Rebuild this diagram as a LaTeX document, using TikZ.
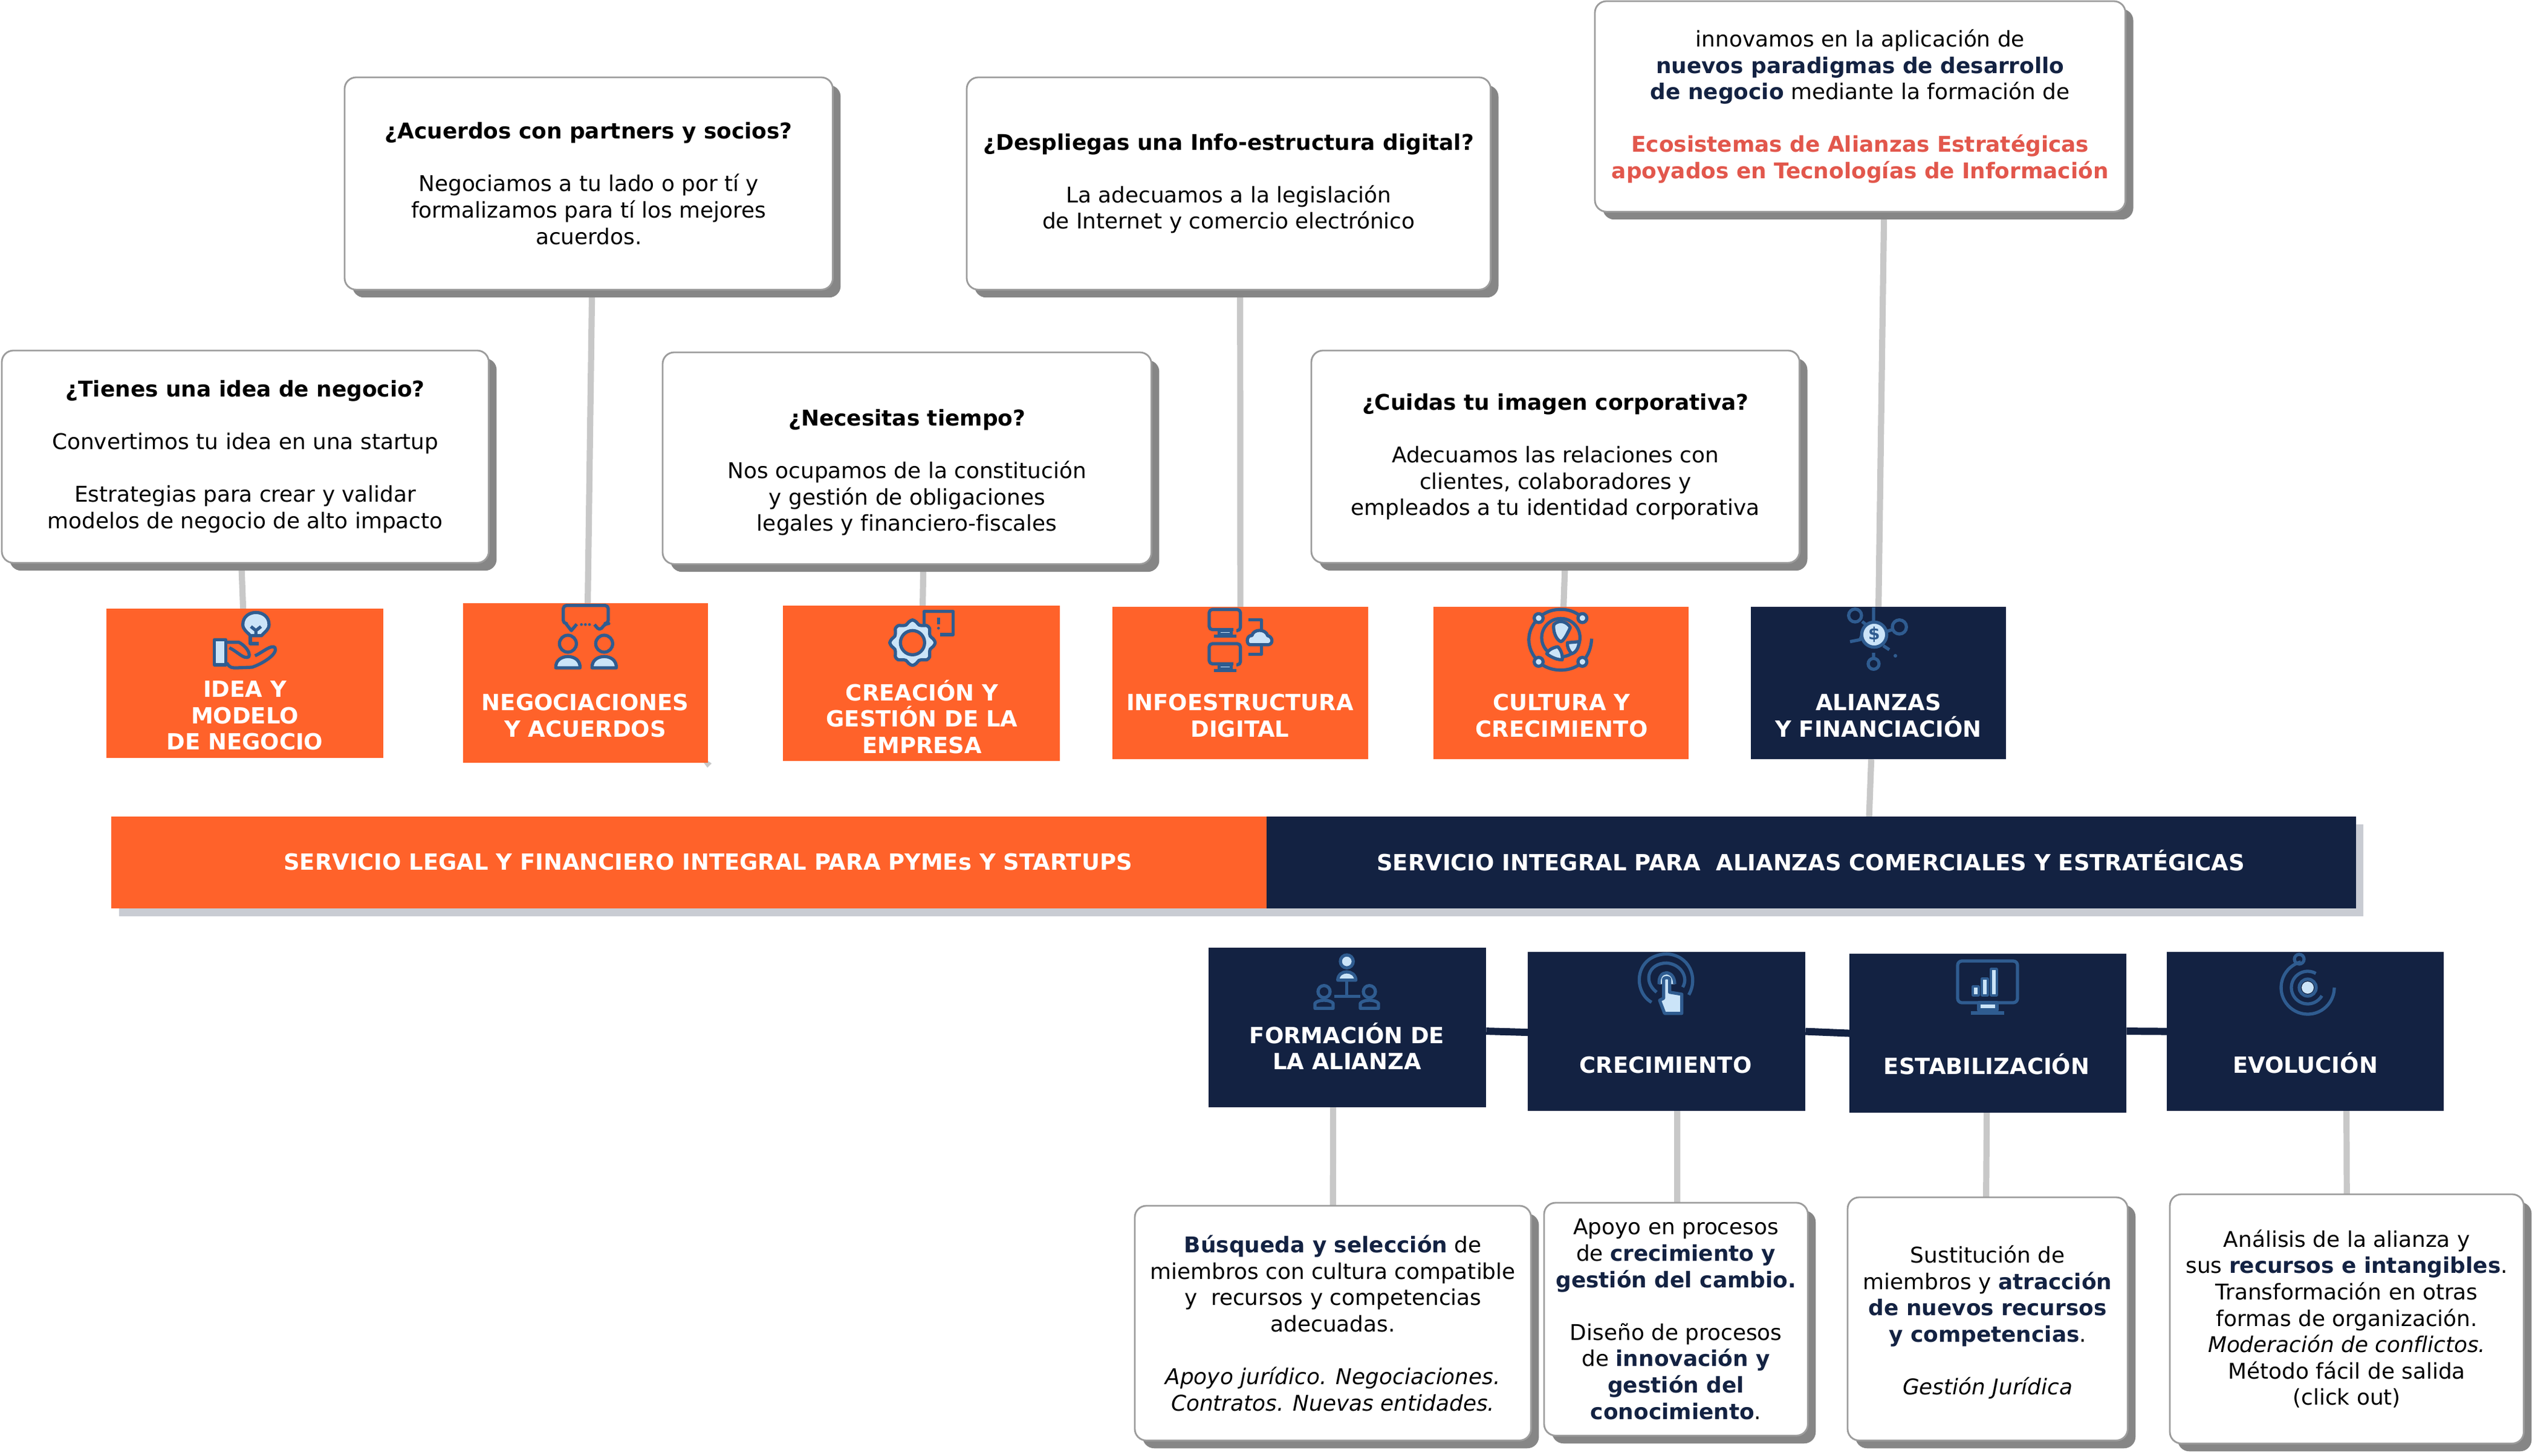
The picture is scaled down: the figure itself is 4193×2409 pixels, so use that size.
\documentclass[tikz,border=0pt]{standalone}
\usepackage{fontspec}
\setmainfont{DejaVu Sans}[Ligatures=NoCommon]
\usetikzlibrary{backgrounds,shadows}
\definecolor{naranja}{HTML}{FF622A}
\definecolor{marino}{HTML}{132242}
\definecolor{rojo}{HTML}{E2574C}
\definecolor{borde}{HTML}{9C9C9C}
\definecolor{sombra}{HTML}{868686}
\definecolor{enlace}{HTML}{C8C8C8}
\definecolor{sombrabarra}{HTML}{C9CCD3}
\definecolor{icono}{HTML}{2F5C90}
\definecolor{claro}{HTML}{CBE4F8}
\tikzset{
	callout/.style={anchor=north west,draw=borde,line width=.8pt,fill=white,rounded corners=.19cm,align=center,inner sep=0pt,outer sep=0pt,
		font=\fontsize{10.2}{12.4}\selectfont,drop shadow={shadow xshift=.13cm,shadow yshift=-.13cm,fill=sombra,opacity=1}},
	stepbox/.style={anchor=north west,inner sep=0pt,outer sep=0pt},
	steptext/.style={text=white,align=center,font=\fontsize{10.5}{12.4}\selectfont\bfseries},
	link/.style={draw=enlace,line width=2.9pt},
	darklink/.style={draw=marino,line width=3.4pt},
	iconline/.style={draw=icono,line width=1.5pt,line join=round},
	iconfill/.style={iconline,fill=claro},
}
\newcommand{\azul}[1]{\textcolor{marino}{\textbf{#1}}}
\begin{document}
\begin{tikzpicture}[x=.01cm,y=-.01cm]
	\useasboundingbox (0,0) rectangle (4193,2409);

	% Cuadros superiores
	\node[callout,minimum width=8.05cm,minimum height=3.51cm] (ideabox) at (3,580) {\textbf{¿Tienes una idea de negocio?}\\~\\Convertimos tu idea en una startup\\~\\Estrategias para crear y validar\\modelos de negocio de alto impacto};
	\node[callout,minimum width=8.07cm,minimum height=3.51cm] (negobox) at (570,128) {\textbf{¿Acuerdos con partners y socios?}\\~\\Negociamos a tu lado o por tí y\\formalizamos para tí los mejores\\acuerdos.};
	\node[callout,minimum width=8.08cm,minimum height=3.50cm] (tiempobox) at (1096,583) {~\\[.31cm]\textbf{¿Necesitas tiempo?}\\~\\Nos ocupamos de la constitución\\y gestión de obligaciones\\legales y financiero-fiscales};
	\node[callout,minimum width=8.66cm,minimum height=3.51cm] (infobox) at (1599,128) {\textbf{¿Despliegas una Info-estructura digital?}\\~\\La adecuamos a la legislación\\de Internet y comercio electrónico};
	\node[callout,minimum width=8.07cm,minimum height=3.51cm] (imagenbox) at (2169,580) {\textbf{¿Cuidas tu imagen corporativa?}\\~\\Adecuamos las relaciones con\\clientes, colaboradores y\\empleados a tu identidad corporativa};
	\node[callout,minimum width=8.77cm,minimum height=3.48cm] (topbox) at (2638,2) {innovamos en la aplicación de\\\azul{nuevos paradigmas de desarrollo}\\\azul{de negocio} mediante la formación de\\~\\\textcolor{rojo}{\textbf{Ecosistemas de Alianzas Estratégicas}}\\\textcolor{rojo}{\textbf{apoyados en Tecnologías de Información}}};

	% Etapas superiores
	\node[stepbox,fill=naranja,minimum width=4.58cm,minimum height=2.47cm] (ideastep) at (176,1007) {};
	\node[stepbox,fill=naranja,minimum width=4.05cm,minimum height=2.64cm] (negostep) at (766,998) {};
	\node[stepbox,fill=naranja,minimum width=4.58cm,minimum height=2.57cm] (creastep) at (1295,1002) {};
	\node[stepbox,fill=naranja,minimum width=4.23cm,minimum height=2.52cm] (infostep) at (1840,1004) {};
	\node[stepbox,fill=naranja,minimum width=4.22cm,minimum height=2.52cm] (cultstep) at (2371,1004) {};
	\node[stepbox,fill=marino,minimum width=4.22cm,minimum height=2.52cm] (alistep) at (2896,1004) {};
	\node[steptext] (ideatext) at (405,1184) {IDEA Y\\MODELO\\DE NEGOCIO};
	\node[steptext] (negotext) at (968,1184) {NEGOCIACIONES\\Y ACUERDOS};
	\node[steptext] (creatext) at (1525,1186) {CREACIÓN Y\\GESTIÓN DE LA\\EMPRESA};
	\node[steptext] (infotext) at (2051,1184) {INFOESTRUCTURA\\DIGITAL};
	\node[steptext] (culttext) at (2583,1184) {CULTURA Y\\CRECIMIENTO};
	\node[steptext] (alitext) at (3107,1184) {ALIANZAS\\Y FINANCIACIÓN};

	% Barra central
	\fill[sombrabarra] (197,1364) rectangle (3909,1516);
	\node[stepbox,fill=naranja,minimum width=19.11cm,minimum height=1.52cm] (barleft) at (184,1351) {};
	\node[stepbox,fill=marino,minimum width=18.01cm,minimum height=1.52cm] (barright) at (2095,1351) {};
	\node[steptext] (lefttext) at (1171,1426) {SERVICIO LEGAL Y FINANCIERO INTEGRAL PARA PYMEs Y STARTUPS};
	\node[steptext] (righttext) at (2995,1424) {SERVICIO INTEGRAL PARA\ \ ALIANZAS COMERCIALES Y ESTRATÉGICAS};

	% Etapas inferiores
	\node[stepbox,fill=marino,minimum width=4.59cm,minimum height=2.64cm] (formstep) at (1999,1568) {};
	\node[stepbox,fill=marino,minimum width=4.59cm,minimum height=2.63cm] (crecstep) at (2527,1575) {};
	\node[stepbox,fill=marino,minimum width=4.58cm,minimum height=2.63cm] (estastep) at (3059,1578) {};
	\node[stepbox,fill=marino,minimum width=4.58cm,minimum height=2.63cm] (evolstep) at (3584,1575) {};
	\node[steptext] (formtext) at (2228,1731) {FORMACIÓN DE\\LA ALIANZA};
	\node[steptext] (crectext) at (2755,1762) {CRECIMIENTO};
	\node[steptext] (estatext) at (3286,1761) {ESTABILIZACIÓN};
	\node[steptext] (evoltext) at (3813,1759) {EVOLUCIÓN};

	% Cuadros inferiores
	\node[callout,minimum width=6.55cm,minimum height=3.88cm] (formbox) at (1877,1995) {\azul{Búsqueda y selección} de\\miembros con cultura compatible\\y\ \ recursos y competencias\\adecuadas.\\~\\\textit{Apoyo jurídico. Negociaciones.}\\\textit{Contratos. Nuevas entidades.}};
	\node[callout,minimum width=4.36cm,minimum height=3.85cm] (crecbox) at (2554,1990) {Apoyo en procesos\\de \azul{crecimiento y}\\\azul{gestión del cambio.}\\~\\Diseño de procesos\\de \azul{innovación y}\\\azul{gestión del}\\\azul{conocimiento}.};
	\node[callout,minimum width=4.63cm,minimum height=4.02cm] (estabox) at (3056,1981) {\rule{0pt}{11.5pt}Sustitución de\\miembros y \azul{atracción}\\\azul{de nuevos recursos}\\\azul{y competencias}.\\~\\\textit{Gestión Jurídica}};
	\node[callout,minimum width=5.85cm,minimum height=4.12cm] (evolbox) at (3589,1976) {Análisis de la alianza y\\sus \azul{recursos e intangibles}.\\Transformación en otras\\formas de organización.\\\textit{Moderación de conflictos.}\\Método fácil de salida\\(click out)};

	% Conectores
	\begin{scope}[on background layer]
		\draw[link] ([xshift=-.065cm]ideabox.south) -- ([xshift=-.03cm]ideastep.north);
		\draw[link] ([xshift=.055cm]negobox.south) -- ([xshift=.035cm]negostep.north);
		\draw[link] ([xshift=.27cm]tiempobox.south) -- ([xshift=.02cm]creastep.north);
		\draw[link] ([xshift=.19cm]infobox.south) -- (infostep.north);
		\draw[link] ([xshift=.16cm]imagenbox.south) -- ([xshift=.04cm]cultstep.north);
		\draw[link] ([xshift=.395cm]topbox.south) -- (alistep.north);
		\draw[link] ([xshift=-.12cm]alistep.south) -- ([xshift=.955cm]barright.north);
		\draw[link] ([xshift=-.235cm]formstep.south) -- (formbox.north);
		\draw[link] ([xshift=.175cm]crecstep.south) -- ([xshift=.02cm]crecbox.north);
		\draw[link] ([xshift=-.02cm]estastep.south) -- ([xshift=-.025cm]estabox.north);
		\draw[link] ([xshift=.68cm]evolstep.south) -- (evolbox.north);
		\draw[darklink] ([yshift=-.06cm]formstep.east) -- ([yshift=-.015cm]crecstep.west);
		\draw[darklink] (crecstep.east) -- (estastep.west);
		\draw[darklink] ([yshift=.035cm]estastep.east) -- (evolstep.west);
		\fill[enlace] (1165,1255) -- (1177,1263) -- (1170,1270) -- (1164,1262) -- cycle;
	\end{scope}

	% Idea: mano y bombilla
	\begin{scope}[shift={(320,1000)},scale=1/3]
		\draw[iconfill] (282,155) .. controls (265,135) and (245,125) .. (245,100) .. controls (245,20) and (375,20) .. (375,100) .. controls (375,125) and (355,135) .. (338,155) -- cycle;
		\draw[iconline] (285,110) -- (310,130) -- (335,110) (310,130) -- (310,155);
		\draw[iconline] (282,160) -- (282,195) -- (325,195);
		\draw[iconfill] (103,175) rectangle (160,300);
		\draw[iconline] (160,188) -- (225,188) .. controls (250,200) and (285,235) .. (275,260) .. controls (250,275) and (220,235) .. (178,215);
		\draw[iconline] (165,290) .. controls (180,315) and (190,315) .. (215,315) -- (290,312) .. controls (330,300) and (420,250) .. (405,215) .. controls (390,195) and (340,240) .. (305,255);
	\end{scope}

	% Negociaciones: burbuja y dos personas
	\begin{scope}[shift={(900,990)},scale=1/3]
		\draw[iconline,rounded corners=1.5pt] (108,125) -- (95,125) -- (95,35) -- (318,35) -- (318,125) -- (305,125) -- (275,160) -- (250,130);
		\draw[iconline] (108,125) -- (135,160) -- (162,128);
		\foreach \x in {185,205,225} \fill[icono] (\x,130) circle (7);
		\foreach \x in {118,298} {
			\draw[iconline] (\x,225) circle (42);
			\draw[iconfill] (\x-60,345) .. controls (\x-65,270) and (\x+65,270) .. (\x+60,345) -- cycle;
		}
	\end{scope}

	% Creacion: engranaje y aviso
	\begin{scope}[shift={(1450,1000)},scale=1/3]
		\draw[iconline] (235,110) -- (235,35) -- (380,35) -- (380,150) -- (315,150);
		\draw[iconline] (307,65) -- (307,100);
		\fill[icono] (307,118) circle (7);
		\draw[iconfill] plot[domain=0:350,samples=36,smooth cycle] ({178+(103+10*cos(8*\x))*cos(\x)},{190+(103+10*cos(8*\x))*sin(\x)});
		\draw[iconline,fill=naranja] (178,190) circle (60);
	\end{scope}

	% Infoestructura: pantallas y nube
	\begin{scope}[shift={(1980,1000)},scale=1/3]
		\foreach \y in {0,170} {
			\draw[iconline,rounded corners=1.5pt] (195,130+\y) -- (215,130+\y) -- (215,25+\y) -- (60,25+\y) -- (60,125+\y) -- (180,125+\y);
			\draw[iconfill] (110,130+\y) rectangle (170,150+\y);
			\draw[iconline] (85,158+\y) -- (195,158+\y);
		}
		\draw[iconline] (255,77) -- (320,77) -- (320,125);
		\draw[iconline] (320,205) -- (320,248) -- (255,248);
		\draw[iconfill] (260,200) .. controls (240,190) and (250,150) .. (272,155) .. controls (280,120) and (340,120) .. (350,155) .. controls (375,160) and (380,195) .. (355,200) -- cycle;
	\end{scope}

	% Cultura: anillo con nodos
	\begin{scope}[shift={(2510,1000)},scale=1/3]
		\draw[iconline] (368,170) .. controls (365,220) and (350,255) .. (322,285);
		\draw[iconline] (105,285) .. controls (40,220) and (40,130) .. (105,68);
		\draw[iconline] (105,68) .. controls (160,10) and (270,10) .. (322,68);
		\draw[iconline] (105,285) .. controls (160,340) and (270,340) .. (322,285);
		\foreach \x/\y in {105/68,322/68,105/285,322/285} \draw[iconfill] (\x,\y) circle (22);
		\draw[iconline] (215,165) circle (95);
		\draw[iconfill] (180,100) .. controls (210,70) and (250,90) .. (262,115) .. controls (245,150) and (230,180) .. (215,185) .. controls (190,175) and (175,130) .. (180,100) -- cycle;
		\draw[iconfill] (248,190) -- (305,185) .. controls (305,220) and (285,240) .. (270,245) .. controls (255,230) and (245,210) .. (248,190) -- cycle;
		\draw[iconfill] (200,210) .. controls (170,215) and (150,230) .. (145,245) .. controls (170,265) and (200,275) .. (222,275) .. controls (225,250) and (215,225) .. (200,210) -- cycle;
	\end{scope}

	% Alianzas: moneda y nodos
	\begin{scope}[shift={(3030,1000)},scale=1/3]
		\draw[iconline] (150,85) -- (175,105) (207,15) -- (207,85) (270,135) -- (300,125) (207,240) -- (207,265) (90,185) -- (140,175) -- (150,150) (255,205) -- (285,225);
		\draw[iconline] (115,55) circle (32);
		\draw[iconline] (335,112) circle (35);
		\draw[iconline] (207,295) circle (27);
		\fill[icono] (315,255) circle (9);
		\draw[iconfill] (210,150) circle (62);
		\node[text=icono,font=\fontsize{8}{8}\selectfont\bfseries] (dolar) at (210,150) {\$};
	\end{scope}

	% Formacion: tres personas
	\begin{scope}[shift={(2150,1570)},scale=1/3]
		\draw[iconfill] (233,62) circle (32);
		\draw[iconfill] (188,155) .. controls (190,100) and (275,100) .. (278,155) -- cycle;
		\draw[iconline] (233,160) -- (233,235) (170,235) -- (300,235);
		\foreach \x in {120,345} {
			\draw[iconline] (\x,212) circle (30);
			\draw[iconline] (\x-45,295) -- (\x-45,270) .. controls (\x-30,250) and (\x+30,250) .. (\x+45,270) -- (\x+45,295) -- cycle;
		}
	\end{scope}

	% Crecimiento: dedo y ondas
	\begin{scope}[shift={(2690,1570)},scale=1/3]
		\draw[iconline] (125,265) .. controls (30,210) and (40,30) .. (200,25) .. controls (310,30) and (360,140) .. (310,228);
		\draw[iconline] (150,215) .. controls (80,160) and (110,70) .. (200,70) .. controls (270,75) and (310,140) .. (280,190);
		\draw[iconfill] (163,175) .. controls (155,100) and (240,100) .. (240,175);
		\draw[iconfill] (185,150) -- (185,245) -- (165,255) -- (190,320) -- (275,320) -- (275,225) -- (215,215) -- (215,150) .. controls (215,140) and (185,140) .. (185,150) -- cycle;
	\end{scope}

	% Estabilizacion: monitor con barras
	\begin{scope}[shift={(3235,1587)}]
		\draw[iconline,rounded corners=2pt] (3,3) rectangle (102,72);
		\draw[iconfill] (38,72) rectangle (68,84);
		\draw[iconline] (25,89) -- (80,89);
		\foreach \x/\h in {28/15,43/28,58/44} \draw[iconfill,line width=1pt] (\x,60) rectangle (\x+10,60-\h);
	\end{scope}

	% Evolucion: diana
	\begin{scope}[shift={(3817,1634)}]
		\fill[claro] (0,0) circle (10);
		\draw[iconline] (0,0) circle (14);
		\draw[iconline] plot[domain=30:300,samples=40] ({27*cos(\x)},{27*sin(\x)});
		\draw[iconline] plot[domain=0:255,samples=40] ({44*cos(\x)},{44*sin(\x)});
		\draw[iconline] (-14,-47) circle (8);
	\end{scope}
\end{tikzpicture}
\end{document}
